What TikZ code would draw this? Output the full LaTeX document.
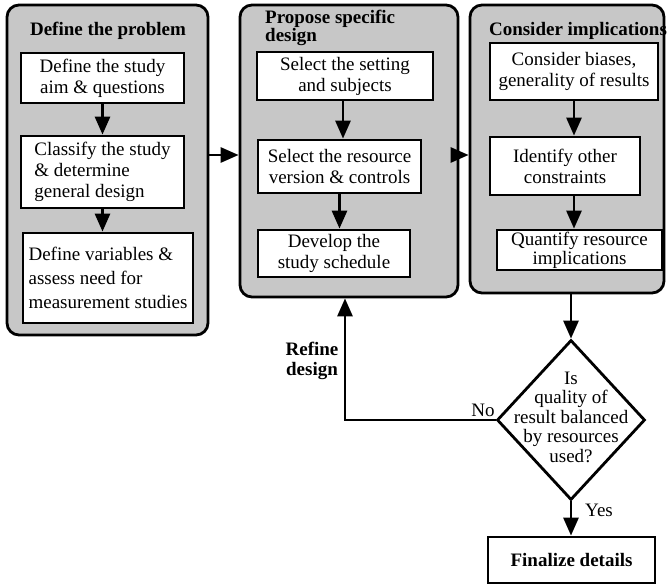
\documentclass[tikz,border=0pt]{standalone}
\usepackage{fontspec}
\setmainfont{Liberation Serif}
\usetikzlibrary{arrows.meta,shapes.geometric}
\begin{document}
\begin{tikzpicture}[x=1pt,y=-1pt,
  font=\fontsize{19}{21}\selectfont,
  panel/.style={draw, line width=2.8pt, rounded corners=12pt, fill=black!22, inner sep=0pt},
  box/.style={draw, line width=2.8pt, fill=white, inner sep=0pt, align=center},
  lbox/.style={draw, line width=2.8pt, fill=white, inner sep=0pt, align=left},
  ttl/.style={font=\fontsize{19}{15}\selectfont\bfseries, inner sep=0pt},
  flow/.style={line width=2.8pt, -{Triangle[length=18pt,width=15pt]}},
  lbl/.style={inner sep=0pt}
]
\useasboundingbox (0,0) rectangle (667,585);

% the three stages
\node[panel, minimum width=201pt, minimum height=330pt] (P1) at (107.5,170) {};
\node[panel, minimum width=218pt, minimum height=292pt] (P2) at (349,151) {};
\node[panel, minimum width=194pt, minimum height=288pt] (P3) at (567,149) {};

\node[ttl] (T1) at (108,31) {Define the problem};
\node[ttl, align=left, anchor=west] (T2) at (265,28) {Propose specific\\design};
\node[ttl] (T3) at (578,31) {Consider implications};

% stage 1
\node[box, minimum width=163pt, minimum height=50pt] (L1) at (102.5,78) {Define the study\\aim \& questions};
\node[lbox, minimum width=163pt, minimum height=72pt] (L2) at (102.5,172) {Classify the study\\\& determine\\general design};
\node[lbox, minimum width=170pt, minimum height=90pt, font=\fontsize{19}{24}\selectfont] (L3) at (108,278) {Define variables \&\\assess need for\\measurement studies};

% stage 2
\node[box, minimum width=176pt, minimum height=48pt] (M1) at (345,76) {Select the setting\\and subjects};
\node[box, minimum width=163pt, minimum height=53pt] (M2) at (339.5,166.5) {Select the resource\\version \& controls};
\node[box, minimum width=152pt, minimum height=47pt] (M3) at (334,253.5) {Develop the\\study schedule};

% stage 3
\node[box, minimum width=168pt, minimum height=57pt] (R1) at (574,71.5) {Consider biases,\\generality of results};
\node[box, minimum width=150pt, minimum height=58pt] (R2) at (565,166) {Identify other\\constraints};
\node[box, minimum width=165pt, minimum height=40pt, font=\fontsize{19}{19}\selectfont] (R3) at (579.5,250) {Quantify resource\\implications};

% decision and final step
\node[draw, diamond, line width=2.8pt, inner sep=0pt, minimum width=148pt, minimum height=160pt] (Q) at (571,420) {};
\node[align=center, inner sep=0pt, font=\fontsize{19}{19.5}\selectfont] (Qt) at (571,417) {Is\\quality of\\result balanced\\by resources\\used?};
\node[box, font=\fontsize{19}{21}\selectfont\bfseries, minimum width=167pt, minimum height=46pt] (F) at (571.5,560) {Finalize details};

% helper positions for connectors
\coordinate (yA) at (0,155);
\coordinate (xM) at (343,0);
\coordinate (xR) at (345,0);

% connectors inside the stages
\draw[flow] (L1) -- (L2);
\draw[flow] (L2.south) -- (L2.south |- L3.north);
\draw[flow] (M1.south -| xM) -- (M2.north -| xM);
\draw[flow] (M2.south) -- (M2.south |- M3.north);
\draw[flow] (R1.south) -- (R1.south |- R2.north);
\draw[flow] (R2.south -| R1.south) -- (R3.north -| R1.south);

% connectors between stages
\draw[flow] (P1.east |- yA) -- (P2.west |- yA);
\draw[flow] (P2.east |- yA) -- (P3.west |- yA);
\draw[flow] (P3.south -| Q.north) -- (Q.north);
\draw[flow] (Q.south) -- (F.north -| Q.south);
\draw[flow] (Q.west) -- (Q.west -| xR) -- (P2.south -| xR);

% labels
\node[lbl] (no) at (483,410) {No};
\node[lbl] (yes) at (599,510) {Yes};
\node[lbl, align=center, font=\fontsize{19}{20}\selectfont\bfseries] (ref) at (312,361) {Refine\\design};
\end{tikzpicture}
\end{document}
